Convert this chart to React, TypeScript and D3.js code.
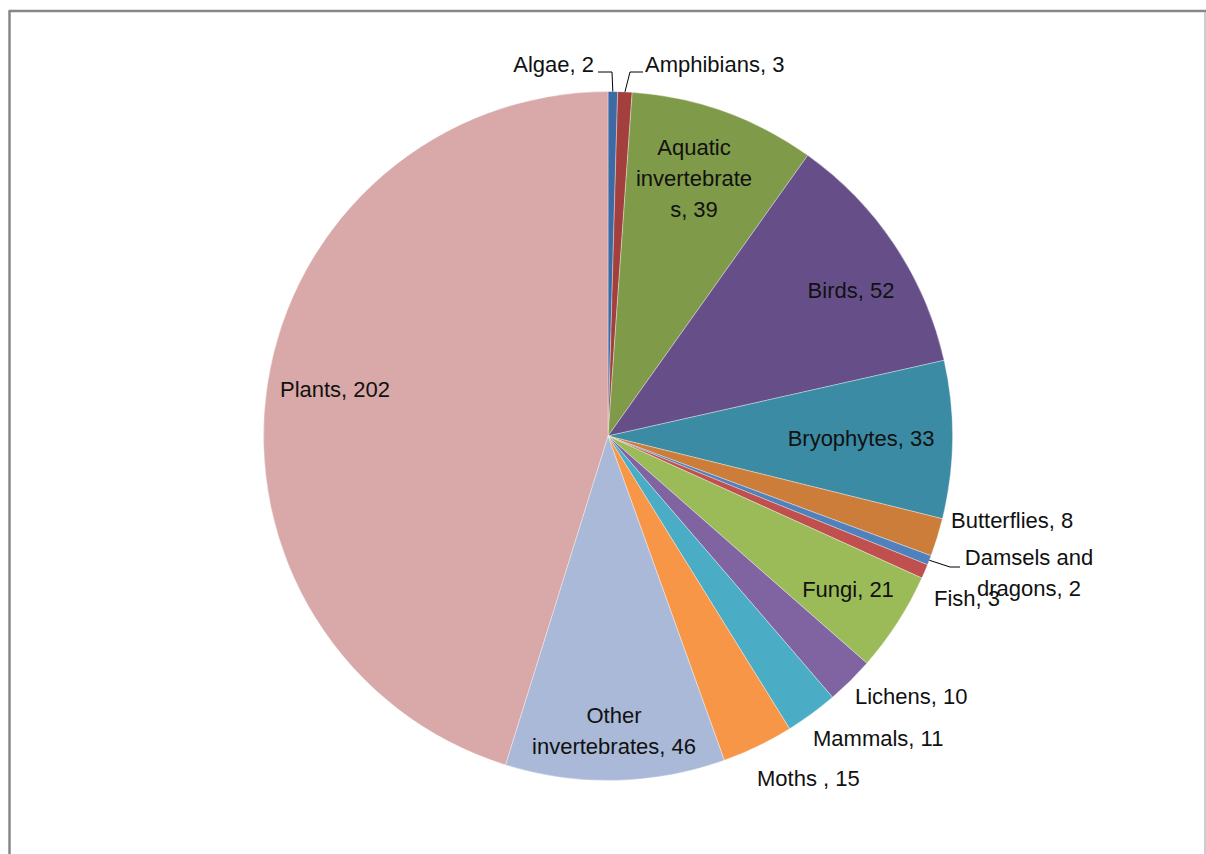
import React from 'react'
import { pie, arc, PieArcDatum } from 'd3'

// species records per group, clockwise from 12 o'clock
const groups = ['Algae', 'Amphibians', 'Aquatic invertebrates', 'Birds', 'Bryophytes', 'Butterflies',
  'Damsels and dragons', 'Fish', 'Fungi', 'Lichens', 'Mammals', 'Moths ', 'Other invertebrates', 'Plants']
const counts = [2, 3, 39, 52, 33, 8, 2, 3, 21, 10, 11, 15, 46, 202]
const colors = ['#3d6aa3', '#a33f3c', '#7f9a48', '#664f88', '#3a8ba3', '#cd7d3a',
  '#4f81bd', '#c0504d', '#9bbb59', '#8064a2', '#4bacc6', '#f79646', '#a9b9d7', '#d9a8a8']

// label text lines (as Excel wrapped them)
const labelLines = [
  ['Algae, 2'], ['Amphibians, 3'], ['Aquatic', 'invertebrate', 's, 39'], ['Birds, 52'], ['Bryophytes, 33'],
  ['Butterflies, 8'], ['Damsels and', 'dragons, 2'], ['Fish, 3'], ['Fungi, 21'], ['Lichens, 10'],
  ['Mammals, 11'], ['Moths , 15'], ['Other', 'invertebrates, 46'], ['Plants, 202']
]

const W = 1206, H = 854
const cx = 608, cy = 436, R = 344.5
const lineH = 31

// label placement relative to pie centre: x, y of first line, anchor, optional leader elbow
const labelPos: { x: number, y: number, anchor: string, leader?: [number, number, number] }[] = [
  { x: -14, y: -372, anchor: 'end', leader: [4, -364, -10] },
  { x: 37, y: -372, anchor: 'start', leader: [22, -364, 35] },
  { x: 86, y: -289, anchor: 'middle' },
  { x: 243, y: -146, anchor: 'middle' },
  { x: 253, y: 2, anchor: 'middle' },
  { x: 343, y: 84, anchor: 'start' },
  { x: 421, y: 121, anchor: 'middle', leader: [342, 131, 352] },
  { x: 326, y: 162, anchor: 'start' },
  { x: 240, y: 153, anchor: 'middle' },
  { x: 247, y: 260, anchor: 'start' },
  { x: 205, y: 302, anchor: 'start' },
  { x: 149, y: 342, anchor: 'start' },
  { x: 6, y: 279, anchor: 'middle' },
  { x: -273, y: -47, anchor: 'middle' }
]

type Row = { name: string, value: number, i: number }
const rows: Row[] = groups.map((name, i) => ({ name, value: counts[i], i }))

export default function App () {
  const slices = pie<Row>().value(d => d.value).sort(null).startAngle(0).endAngle(2 * Math.PI)(rows)
  const path = arc<PieArcDatum<Row>>().innerRadius(0).outerRadius(R)

  return (
    <svg width={W} height={H} style={{ position: 'absolute', left: 0, top: 0, background: '#fff' }}
      fontFamily="'Liberation Sans', Arial, sans-serif" fontSize={22}>
      <rect x={0} y={0} width={W} height={H} fill="#fff" />
      <line x1={9.5} y1={11} x2={9.5} y2={H} stroke="#878787" strokeWidth={2.5} />
      <line x1={8.5} y1={11} x2={W} y2={11} stroke="#878787" strokeWidth={2.5} />
      <line x1={1205} y1={12} x2={1205} y2={H} stroke="#bdbdbd" strokeWidth={1.5} />
      <g transform={`translate(${cx},${cy})`}>
        {slices.map(s => (
          <path key={s.data.name} d={path(s) || ''} fill={colors[s.data.i]} stroke="#ffffff" strokeOpacity={0.5} strokeWidth={0.7} />
        ))}
        {slices.map(s => {
          const p = labelPos[s.data.i]
          if (!p.leader) return null
          const mid = (s.startAngle + s.endAngle) / 2
          const ax = R * Math.sin(mid), ay = -R * Math.cos(mid)
          const [ex, ey, tx] = p.leader
          return <polyline key={'l' + s.data.name} points={`${ax},${ay} ${ex},${ey} ${tx},${ey}`}
            fill="none" stroke="#000" strokeWidth={1} />
        })}
        {slices.map(s => {
          const p = labelPos[s.data.i]
          return (
            <text key={'t' + s.data.name} textAnchor={p.anchor} dominantBaseline="central" fill="#111">
              {labelLines[s.data.i].map((ln, k) => (
                <tspan key={k} x={p.x} y={p.y + k * lineH}>{ln}</tspan>
              ))}
            </text>
          )
        })}
      </g>
    </svg>
  )
}
